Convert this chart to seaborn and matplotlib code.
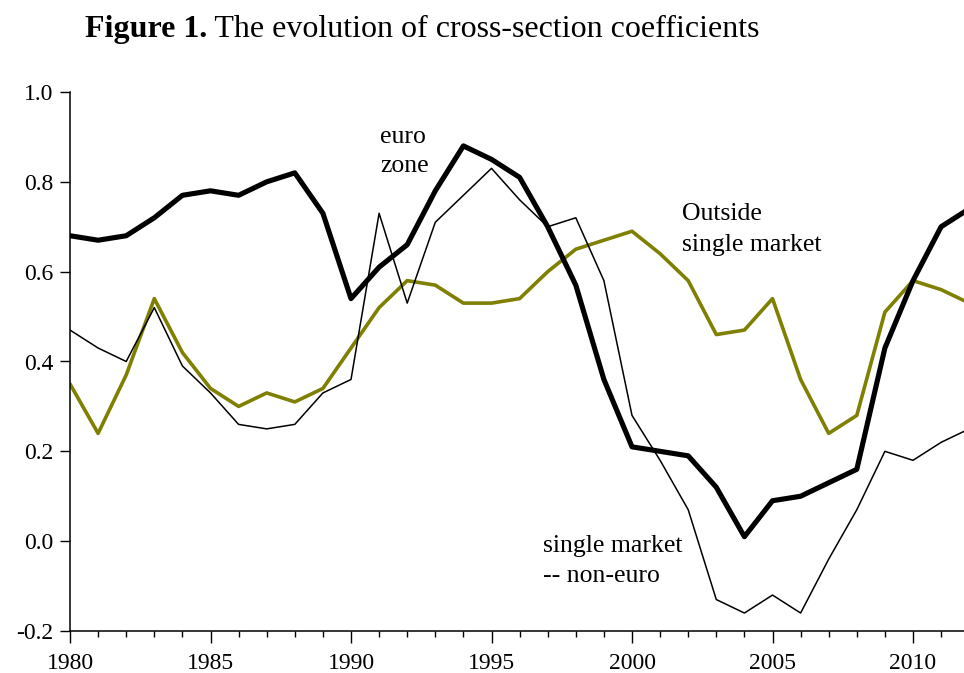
import pandas as pd
import seaborn as sns
import matplotlib.pyplot as plt
from matplotlib.ticker import MultipleLocator

# years 1980-2012
years = list(range(1980, 2013))

# euro zone (thick black)
euro_zone = [0.68, 0.67, 0.68, 0.72, 0.77, 0.78, 0.77, 0.80, 0.82, 0.73,
             0.54, 0.61, 0.66, 0.78, 0.88, 0.85, 0.81, 0.70, 0.57, 0.36,
             0.21, 0.20, 0.19, 0.12, 0.01, 0.09, 0.10, 0.13, 0.16, 0.43,
             0.58, 0.70, 0.74]

# single market -- non-euro (thin black)
single_market = [0.47, 0.43, 0.40, 0.52, 0.39, 0.33, 0.26, 0.25, 0.26, 0.33,
                 0.36, 0.73, 0.53, 0.71, 0.77, 0.83, 0.76, 0.70, 0.72, 0.58,
                 0.28, 0.18, 0.07, -0.13, -0.16, -0.12, -0.16, -0.04, 0.07, 0.20,
                 0.18, 0.22, 0.25]

# outside single market (olive)
outside = [0.35, 0.24, 0.37, 0.54, 0.42, 0.34, 0.30, 0.33, 0.31, 0.34,
           0.43, 0.52, 0.58, 0.57, 0.53, 0.53, 0.54, 0.60, 0.65, 0.67,
           0.69, 0.64, 0.58, 0.46, 0.47, 0.54, 0.36, 0.24, 0.28, 0.51,
           0.58, 0.56, 0.53]

df = pd.DataFrame({
    'year': years * 3,
    'coef': outside + single_market + euro_zone,
    'series': ['outside'] * len(years) + ['single'] * len(years) + ['euro'] * len(years),
})

sns.set_style('ticks')
plt.rcParams['font.family'] = ['Liberation Serif', 'DejaVu Serif']
plt.rcParams['text.color'] = 'black'
plt.rcParams['xtick.color'] = 'black'
plt.rcParams['ytick.color'] = 'black'

fig = plt.figure(figsize=(9.64, 6.73), dpi=100)
ax = fig.add_axes([70 / 964, 42 / 673, 894 / 964, 539 / 673])

pal = {'outside': '#7f7f00', 'single': 'black', 'euro': 'black'}
widths = {'outside': 2.6, 'single': 1.1, 'euro': 3.7}
sns.lineplot(data=df, x='year', y='coef', hue='series', size='series',
             palette=pal, sizes=widths, legend=False, ax=ax)

ax.set_xlim(1980, 1980 + 894 / 28.1)
ax.set_ylim(-0.2, 1.0)
ax.xaxis.set_major_locator(MultipleLocator(5))
ax.xaxis.set_minor_locator(MultipleLocator(1))
ax.yaxis.set_major_locator(MultipleLocator(0.2))
ax.set_yticklabels([f'{v:.1f}' for v in ax.get_yticks()])
ax.tick_params(axis='x', which='major', length=8.5, width=1, labelsize=17, pad=7,
               direction='out', colors='black')
ax.tick_params(axis='x', which='minor', length=4.3, width=1, direction='out', colors='black')
ax.tick_params(axis='y', which='major', length=7, width=1, labelsize=17, pad=5,
               direction='out', colors='black')
ax.set_xlabel('')
ax.set_ylabel('')
sns.despine(ax=ax)
for s in ['left', 'bottom']:
    ax.spines[s].set_linewidth(1.1)
    ax.spines[s].set_color('black')

# annotations
lab = dict(fontsize=18.5, va='baseline', ha='left', color='black')
ax.text(1991.03, 0.887, 'euro', **lab)
ax.text(1991.03, 0.822, 'zone', **lab)
ax.text(2001.78, 0.715, 'Outside', **lab)
ax.text(2001.78, 0.647, 'single market', **lab)
ax.text(1996.82, -0.024, 'single market', **lab)
ax.text(1996.82, -0.090, '-- non-euro', **lab)

# title
t1 = fig.text(85 / 964, 1 - 37 / 673, 'Figure 1.', fontsize=23, fontweight='bold',
              va='baseline', color='black')
fig.canvas.draw()
ax.annotate(' The evolution of cross-section coefficients', xy=(1, 0), xycoords=t1,
            fontsize=23, va='bottom', ha='left', color='black', annotation_clip=False)

plt.savefig('out.png', dpi=100)
